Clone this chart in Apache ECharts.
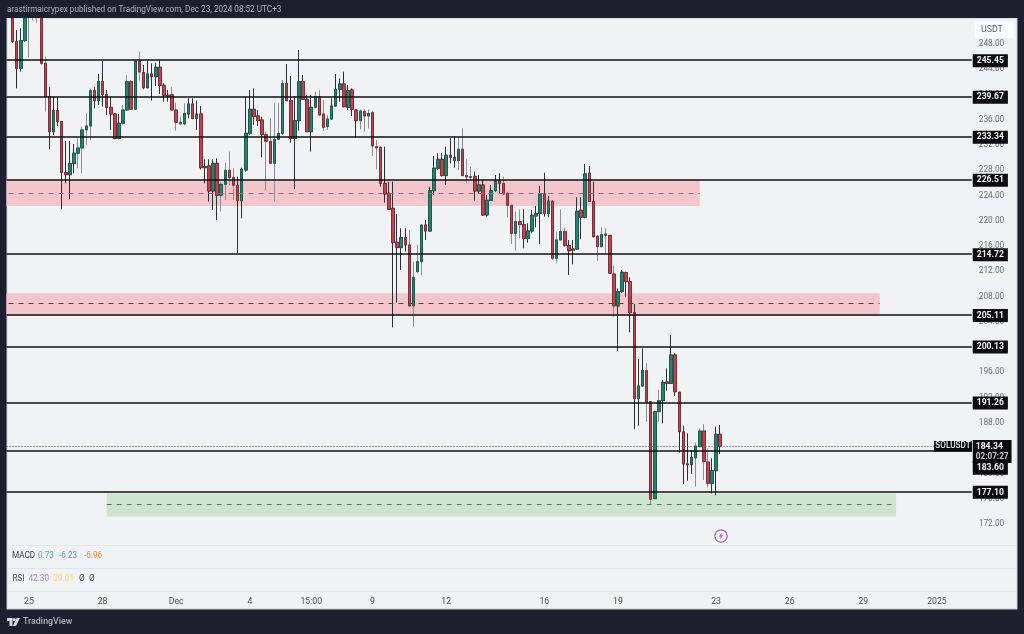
<!DOCTYPE html>
<html>
<head>
<meta charset="utf-8">
<title>SOLUSDT</title>
<style>
  html, body { margin: 0; padding: 0; background: #1b1f2e; }
  #chart { width: 1024px; height: 634px; }
</style>
<script src="https://cdn.jsdelivr.net/npm/echarts@6/dist/echarts.min.js"></script>
</head>
<body>
<div id="chart"></div>
<script>
// 4h candles, oldest first
const opens = [
  254,248.37,244.15,248.53,254,254,254,255,244.94,239.66,
  234.12,237.45,235.71,227.63,227.31,229.1,230.69,231.54,234.39,235.02,
  240.61,239.03,242.04,239.98,237.97,236.92,233.07,235.44,237.55,242.04,
  237.66,245.31,243.46,241.09,243.25,242.83,244.31,241.46,239.88,239.98,
  237.55,235.6,235.34,236.92,238.5,236.23,236.92,228.58,228.69,224.73,
  229.1,224.04,225.78,228,226.84,225.63,223.2,228.05,233.86,237.66,
  236.6,235.97,233.65,232.59,229.1,232.91,233.86,241.77,239.03,233.07,
  235.86,242.04,239.24,234.12,237.97,239.66,236.92,234.91,236.12,238.18,
  240.82,241.67,237.97,240.72,237.55,235.86,237.34,236.6,237.13,231.75,
  231.59,225.94,224.36,221.98,216.6,215.76,217.34,216.18,206.52,211.96,
  213.54,219.34,218.39,224.78,228.32,229.74,227.16,230.38,230.06,229.53,
  231.33,227.16,227,227.05,224.73,225.68,220.93,223.25,224.78,226.31,
  225.94,224.36,222.46,218.02,219.87,219.4,217.23,218.39,220.77,221.19,
  224.25,221.19,223.14,214.07,216.97,218.29,216.07,215.54,215.54,221.67,
  220.56,227.53,223.09,217.5,215.91,217.71,217.71,211.59,206.52,208.79,
  211.79,210.37,205.46,191.9,193.85,196.28,191.37,176,189.79,191.53,
  194.48,194.27,198.76,192.85,186.57,181.5,181.39,182.45,184.24,186.72,
  181.82,178.44,180.44,186.2
]
const closes = [
  248.37,244.15,248.53,253.5,255.5,255.5,255.5,244.94,239.66,234.12,
  237.45,235.71,227.63,227.31,229.1,230.69,231.54,234.39,235.02,240.61,
  239.03,242.04,239.98,237.97,236.92,233.07,235.44,237.55,242.04,237.66,
  245.31,243.57,241.09,243.25,242.83,244.31,241.46,239.88,239.77,237.55,
  235.6,235.34,237.02,238.5,236.23,236.92,228.42,228.42,224.73,229.1,
  224.04,225.78,228,226.84,225.63,223.2,228.16,233.86,237.66,236.5,
  235.86,233.65,232.59,229.1,232.91,233.86,241.77,239.03,233.07,235.86,
  242.04,239.24,234.12,237.97,239.66,236.76,234.81,236.12,238.18,240.82,
  241.67,238.08,240.61,237.66,235.86,237.39,236.6,237.02,231.85,231.54,
  225.94,224.25,221.82,216.55,215.76,217.34,216.18,206.52,211.06,213.54,
  219.34,218.39,224.78,228.32,229.74,227.16,230.38,230.06,229.53,231.33,
  227.16,226.94,226.89,224.73,225.68,220.93,223.25,224.78,226.26,225.94,
  224.25,222.46,218.02,219.87,219.4,217.23,218.39,220.88,221.14,224.25,
  221.19,223.14,214.07,216.97,218.29,216.07,215.28,215.33,221.51,220.56,
  227.42,223.09,217.5,215.91,217.81,217.92,211.69,206.52,208.79,211.85,
  210.37,205.46,191.9,193.85,196.28,191.26,175.9,189.79,191.53,194.43,
  194.27,198.76,192.95,186.62,181.5,181.39,182.55,184.35,186.72,181.87,
  178.44,180.44,186.2,184.34
]
const lows = [
  248.21,240.98,243.62,248.37,245.89,251.7,251.38,244.7,237.29,231.33,
  233.59,235.02,221.82,225.94,223.41,227.52,228.32,227.52,232.01,232.8,
  237.82,238.34,238.08,236.76,234.39,232.91,232.91,235.18,237.45,237.55,
  237.55,242.2,240.83,240.98,239.03,241.35,240.09,238.87,238.87,237.39,
  234.28,235.34,235.18,236.23,236.07,234.39,228.16,225.94,223.04,221.72,
  220.13,221.45,223.3,225.68,223.3,214.91,220.4,227.79,233.59,235.18,
  235.02,230.06,224.78,229.1,223.04,232.8,233.59,239.03,232.38,225.04,
  234.28,239.14,234.12,230.96,237.82,236.76,234.22,234.38,236.07,238.08,
  238.87,237.97,237.55,236.6,233.22,234.49,234.12,234.65,230.27,228.16,
  225.41,222.88,221.72,203.14,207.05,212.22,215.12,206.41,203.25,211.69,
  211.43,216.97,218.29,224.1,228.05,227,225.68,229.11,228.42,228.05,
  227.1,225.94,226.47,223.2,224.25,220.77,220.66,223.14,224.62,224.25,
  224.1,220.56,216.34,215.28,217.23,215.65,216.55,218.02,218.97,216.34,
  220.66,220.56,213.8,213.27,216.86,215.91,211.43,213.12,215.49,217.07,
  220.4,222.99,217.39,213.64,215.81,214.86,211.59,204.83,199.39,208.63,
  207.99,202.35,186.99,187.57,193.74,188.2,175.17,175.9,188.2,187.94,
  193.11,194.17,192.27,183.29,178.33,178.86,179.92,177.91,184.14,178.97,
  177.8,176.85,176.54,183.08
]
const highs = [
  257,250.22,250.48,256,256,256,256,256,245.99,241.14,
  239.66,239.66,235.8,232.64,232.64,232.17,233.07,234.91,237.02,240.98,
  241.14,243.25,245.31,240.72,239.66,237.02,236.92,238.34,243.09,242.3,
  245.47,246.79,244.68,245.36,244.94,245.05,245.36,241.77,240.72,241.14,
  238.71,236.5,238.61,239.4,239.4,239.03,238.19,229.74,229.74,229.74,
  229.9,226.21,229.21,230.96,228.32,227,228.42,239.66,240.72,240.98,
  237.55,236.5,234.12,236.23,238.61,238.61,242.3,244.84,242.94,239.66,
  247.05,243.09,239.93,239.93,240.46,240.72,239.14,236.76,239.4,243.25,
  242.56,243.62,241.5,240.98,237.66,237.66,237.66,237.66,237.44,232.8,
  231.75,231.75,226.21,226.21,221.09,218.82,218.82,218.55,213.54,216.18,
  219.34,220.14,225.41,230.27,230.69,230.69,231.75,233.07,233.33,233.33,
  234.65,229.74,228.58,227.79,227.26,226.58,224.1,225.68,227.26,227.53,
  227,224.62,222.51,221.46,221.82,221.82,219.61,221.72,222.35,225.52,
  227.63,223.94,223.3,218.29,221.82,218.92,216.97,216.97,223.73,223.73,
  229,228.69,226.21,217.76,218.97,218.82,217.76,212.85,209.32,212.22,
  211.95,211.05,206.83,198.12,199.81,197.44,191.37,189.94,193.22,194.8,
  196.65,201.92,199.02,192.95,187.57,186.35,183.72,184.88,187.15,187.83,
  183.98,182.4,187.41,187.67
]

// horizontal levels drawn on the chart
const levels = [245.45, 239.67, 233.34, 226.51, 214.72, 205.11, 200.13, 191.26, 183.6, 177.1]
const lastPrice = 184.34

// zones: top, middle, bottom, first bar, last bar
const zoneUpper = [226.47, 224.4, 222.35, 0, 169]
const zoneLower = [208.52, 206.94, 205.0, 0, 213]
const zoneDemand = [176.85, 175.05, 173.2, 24, 217]

const tickIndex = [5, 23, 41, 59, 74, 89, 107, 131, 149, 173, 191, 209, 227]
const tickNames = ['25', '28', 'Dec', '4', '15:00', '9', '12', '16', '19', '23', '26', '29', '2025']

const barCount = 236
const fontName = 'Roboto, "Liberation Sans", sans-serif'
const frame = '#1b1f2e'
const red = '#bd454f'
const green = '#287f6c'
const wickDark = '#2b2f36'
const wickSoft = '#8b8e92'

let categories = new Array(barCount).fill('')
tickIndex.forEach((k, i) => { categories[k] = tickNames[i] })

// the source picture was resized, so every 11-12 bars the wicks fall between pixels and look grey
function isSoftWick(i) {
  return (((i - 3.7) / 11.6) % 1 + 1) % 1 < 0.38
}

const blank = ['-', '-', '-', '-']
const wickData = [blank].concat(opens.map((o, i) => {
  let colour = isSoftWick(i) ? wickSoft : wickDark
  return {
    value: [o, closes[i], lows[i], highs[i]],
    itemStyle: { borderColor: colour, borderColor0: colour, color: 'rgba(0,0,0,0)', color0: 'rgba(0,0,0,0)' }
  }
}))
const bodyData = [blank].concat(opens.map((o, i) => {
  let top = Math.max(o, closes[i])
  let bottom = Math.min(o, closes[i])
  return [o, closes[i], bottom, top]
}))

function zoneArea(zone, colour) {
  return [
    { yAxis: zone[0], xAxis: zone[3] === 0 ? undefined : zone[3], itemStyle: { color: colour } },
    { yAxis: zone[2], xAxis: zone[4] }
  ]
}
function zoneDash(zone, colour) {
  return [
    { xAxis: zone[3], yAxis: zone[1], lineStyle: { color: colour, type: [5, 5], width: 1 }, label: { show: false } },
    { xAxis: zone[4], yAxis: zone[1] }
  ]
}

const levelLines = levels.map(v => ({
  yAxis: v,
  label: { offset: v === 183.6 ? [0, 17.5] : [0, 0.6] }
}))

function text(x, y, str, colour, size, weight) {
  return {
    type: 'text', x: x, y: y,
    style: { text: str, fill: colour, font: (weight || 'normal') + ' ' + (size || 8.2) + 'px ' + fontName, verticalAlign: 'middle' }
  }
}
function tag(x, y, w, h, str, colour) {
  return [
    { type: 'rect', z: 20, shape: { x: x, y: y, width: w, height: h }, style: { fill: '#0b0b0d' } },
    {
      type: 'text', z: 21, x: x + w / 2, y: y + h / 2,
      style: { text: str, fill: colour || '#f0f0f0', font: '500 8.2px ' + fontName, align: 'center', verticalAlign: 'middle' }
    }
  ]
}

const decorations = [
  { type: 'rect', z: -10, shape: { x: 7, y: 18, width: 1010, height: 591 }, style: { fill: '#f0f2f4', stroke: '#c9ccd3', lineWidth: 1 } },
  // wicks above the pane stay hidden under the frame
  { type: 'rect', z: 10, shape: { x: 0, y: 0, width: 1024, height: 18 }, style: { fill: frame } },
  { type: 'rect', z: 15, shape: { x: 975, y: 22, width: 39, height: 16 }, style: { fill: '#fbfcfd' } },
  { type: 'line', shape: { x1: 7, y1: 545.5, x2: 1017, y2: 545.5 }, style: { stroke: '#e2e5e9', lineWidth: 1 } },
  { type: 'line', shape: { x1: 7, y1: 568.5, x2: 1017, y2: 568.5 }, style: { stroke: '#e2e5e9', lineWidth: 1 } },
  { type: 'line', shape: { x1: 7, y1: 591.5, x2: 1017, y2: 591.5 }, style: { stroke: '#e2e5e9', lineWidth: 1 } },
  Object.assign(text(7, 10, 'arastirmaicrypex published on TradingView.com, Dec 23, 2024 08:52 UTC+3', '#b2b5be', 8.2), { z: 11 }),
  Object.assign(text(981, 30, 'USDT', '#5d606b', 8.8), { z: 16 }),
  text(12, 555.5, 'MACD', '#3f424a'),
  text(38, 555.5, '0.73', '#4caf90'),
  text(59, 555.5, '-6.23', '#5b84d6'),
  text(84, 555.5, '-6.96', '#f08a3c'),
  text(12.5, 578.5, 'RSI', '#3f424a'),
  text(28.5, 578.5, '42.30', '#9a8fd6'),
  text(53.5, 578.5, '39.01', '#f4dc72'),
  text(79, 578.5, 'Ø', '#3f424a'),
  text(89, 578.5, 'Ø', '#3f424a'),
  // TradingView logo
  { type: 'polygon', shape: { points: [[7, 618], [12.5, 618], [12.5, 626], [9.5, 626], [9.5, 621], [7, 621]] }, style: { fill: '#d6d8de' } },
  { type: 'circle', shape: { cx: 14.2, cy: 619.6, r: 1.6 }, style: { fill: '#d6d8de' } },
  { type: 'polygon', shape: { points: [[16.6, 618], [20, 618], [16, 626], [12.8, 626]] }, style: { fill: '#d6d8de' } },
  text(23, 622, 'TradingView', '#b2b5be', 8.9, '500'),
  // bolt badge
  { type: 'circle', shape: { cx: 721, cy: 536, r: 6.2 }, style: { fill: 'none', stroke: '#a45cbd', lineWidth: 1.2 } },
  { type: 'polygon', shape: { points: [[722, 532], [719, 536.5], [720.8, 536.5], [720, 540], [723, 535.3], [721.2, 535.3]] }, style: { fill: '#a45cbd' } }
]
  .concat(tag(934, 441, 38, 10.5, 'SOLUSDT', '#e8e8e8'))

let dom = document.getElementById('chart')
let chart = echarts.init(dom, null, { renderer: 'canvas' })

let option = {
  animation: false,
  backgroundColor: frame,
  textStyle: { fontFamily: fontName },
  graphic: { elements: decorations },
  grid: { left: 6.5, top: 18.74, width: 965.24, height: 530.5, show: false },
  xAxis: {
    type: 'category',
    data: categories,
    axisLine: { show: false },
    axisTick: { show: false },
    splitLine: { show: false },
    axisLabel: {
      color: '#4c4f57',
      fontSize: 8.7,
      margin: 48,
      interval: (i, val) => val !== ''
    }
  },
  yAxis: {
    type: 'value',
    position: 'right',
    min: 168,
    max: 252,
    interval: 4,
    axisLine: { show: false },
    axisTick: { show: false },
    splitLine: { show: false },
    axisLabel: {
      color: '#6a6d76',
      fontSize: 8.3,
      margin: 7,
      padding: [6, 0, 0, 0],
      formatter: v => (v === 168 || v === 252) ? '' : v.toFixed(2)
    }
  },
  series: [
    {
      name: 'wicks',
      type: 'candlestick',
      barWidth: 3,
      data: wickData,
      itemStyle: { borderWidth: 1 },
      z: 3,
      markArea: {
        silent: true,
        data: [
          zoneArea(zoneUpper, '#f3c5cc'),
          zoneArea(zoneLower, '#f3c5cc'),
          zoneArea(zoneDemand, '#cde4d1')
        ]
      },
      markLine: {
        silent: true,
        symbol: 'none',
        z: 4,
        lineStyle: { color: '#111', type: 'solid', width: 1.6 },
        label: {
          position: 'end',
          distance: 1,
          formatter: p => p.value.toFixed(2),
          color: '#f2f2f2',
          backgroundColor: '#0b0b0d',
          fontSize: 8.6,
          fontWeight: 'bold',
          padding: [2, 4]
        },
        data: levelLines.concat([
          zoneDash(zoneUpper, '#8d6a6f'),
          zoneDash(zoneLower, '#5f3f45'),
          zoneDash(zoneDemand, '#5a7a60'),
          {
            yAxis: lastPrice,
            lineStyle: { color: '#55585e', type: [1, 2], width: 1 },
            label: {
              position: 'end',
              distance: 1,
              offset: [0, 5.5],
              formatter: p => '{a|' + p.value.toFixed(2) + '}\n{b|02:07:27}',
              backgroundColor: '#0b0b0d',
              padding: [1, 3],
              rich: {
                a: { color: '#f2f2f2', fontSize: 8.6, fontWeight: 'bold', lineHeight: 11, fontFamily: fontName },
                b: { color: '#c8c8c8', fontSize: 8.2, lineHeight: 10, fontFamily: fontName }
              }
            }
          }
        ])
      }
    },
    {
      name: 'bodies',
      type: 'candlestick',
      barWidth: 3,
      data: bodyData,
      z: 3,
      itemStyle: {
        color: green,
        color0: red,
        borderColor: '#1f5a4e',
        borderColor0: '#7c2f38',
        borderWidth: 1
      }
    }
  ]
}

chart.setOption(option)
window.addEventListener('resize', chart.resize)
</script>
</body>
</html>
